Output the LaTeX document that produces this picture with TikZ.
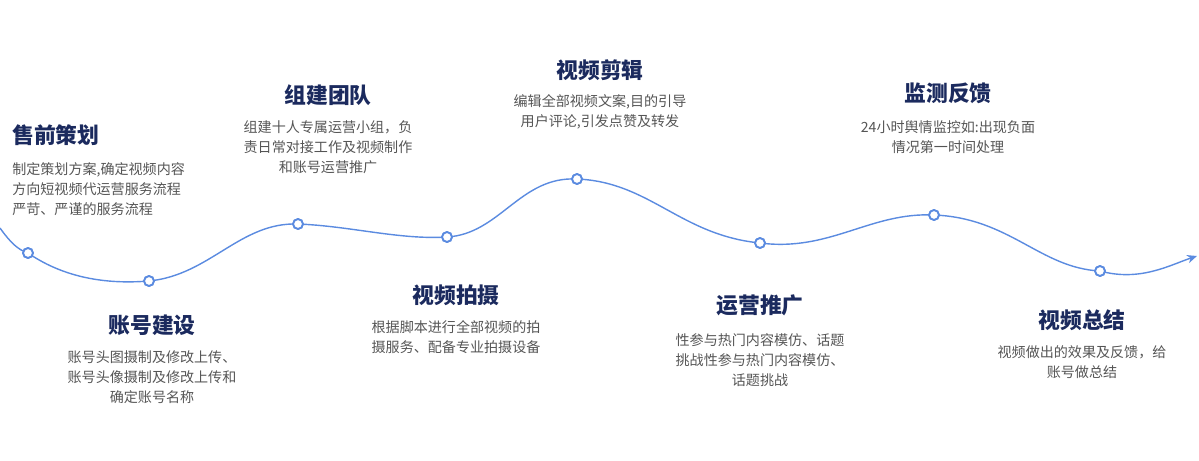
\documentclass[tikz,border=0pt]{standalone}
\usepackage{fontspec}
\setmainfont{Noto Sans CJK SC}
\usetikzlibrary{arrows.meta}
\definecolor{navy}{HTML}{1B2A5E}
\definecolor{curveblue}{HTML}{5B8BE0}
\definecolor{bodygray}{HTML}{555555}
\tikzset{
 ttl/.style={font=\fontsize{15.5}{18}\selectfont\bfseries, text=navy, inner sep=0},
 bdy/.style={font=\fontsize{10}{14.2}\selectfont, text=bodygray, inner sep=0, align=center},
 dot/.style={circle, draw=curveblue, fill=white, line width=1.3pt, minimum size=7pt, inner sep=0},
}
\begin{document}
\begin{tikzpicture}[x=0.025cm,y=-0.025cm]
\useasboundingbox (0,0) rectangle (1199,461);
\coordinate (s) at (0,228);
\node[dot] (p1) at (28,253) {};
\node[dot] (p2) at (149,281) {};
\node[dot] (p3) at (298,224) {};
\node[dot] (p4) at (447,237) {};
\node[dot] (p5) at (577,179) {};
\node[dot] (p6) at (760,243) {};
\node[dot] (p7) at (934,215) {};
\node[dot] (p8) at (1100,271) {};
\coordinate (e) at (1197,256);
\begin{scope}[on background layer/.style={}]
\draw[curveblue, line width=1pt, -{Stealth[length=7pt,width=6pt]}]
 (s) .. controls (10,242) and (18,250) .. (p1.center)
 .. controls (60,275) and (100,285) .. (p2.center)
 .. controls (210,275) and (240,222) .. (p3.center)
 .. controls (350,226) and (400,240) .. (p4.center)
 .. controls (500,234) and (520,176) .. (p5.center)
 .. controls (650,182) and (680,235) .. (p6.center)
 .. controls (830,252) and (870,212) .. (p7.center)
 .. controls (1010,218) and (1040,268) .. (p8.center)
 .. controls (1140,282) and (1170,265) .. (e);
\end{scope}
\foreach \p in {p1,p2,p3,p4,p5,p6,p7,p8} \node[dot] at (\p) {};
\node[ttl,anchor=west] (t1) at (12,135) {售前策划};
\node[bdy,anchor=north west,align=left] (b1) at (12,162) {制定策划方案,确定视频内容\\方向短视频代运营服务流程\\严苛、严谨的服务流程};
\node[ttl] (t2) at (152,325) {账号建设};
\node[bdy,anchor=north] (b2) at (152,350) {账号头图摄制及修改上传、\\账号头像摄制及修改上传和\\确定账号名称};
\node[ttl] (t3) at (328,95) {组建团队};
\node[bdy,anchor=north] (b3) at (328,120) {组建十人专属运营小组，负\\责日常对接工作及视频制作\\和账号运营推广};
\node[ttl] (t4) at (456,295) {视频拍摄};
\node[bdy,anchor=north] (b4) at (456,320) {根据脚本进行全部视频的拍\\摄服务、配备专业拍摄设备};
\node[ttl] (t5) at (600,70) {视频剪辑};
\node[bdy,anchor=north] (b5) at (600,94) {编辑全部视频文案,目的引导\\用户评论,引发点赞及转发};
\node[ttl] (t6) at (760,305) {运营推广};
\node[bdy,anchor=north] (b6) at (760,333) {性参与热门内容模仿、话题\\挑战性参与热门内容模仿、\\话题挑战};
\node[ttl] (t7) at (948,93) {监测反馈};
\node[bdy,anchor=north] (b7) at (948,120) {24小时舆情监控如:出现负面\\情况第一时间处理};
\node[ttl] (t8) at (1082,320) {视频总结};
\node[bdy,anchor=north] (b8) at (1082,345) {视频做出的效果及反馈，给\\账号做总结};
\end{tikzpicture}
\end{document}
